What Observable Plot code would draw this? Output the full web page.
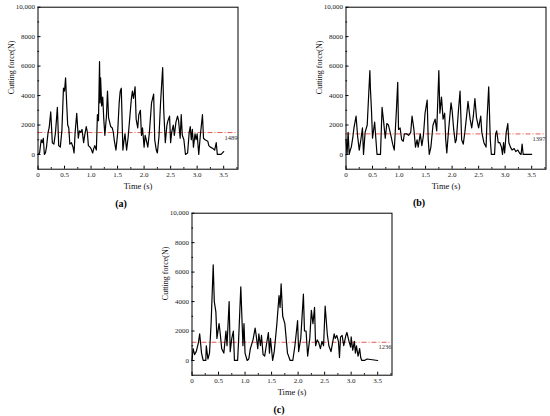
<!DOCTYPE html>
<html><head><meta charset="utf-8">
<script src="https://cdn.jsdelivr.net/npm/d3@7"></script>
<script src="https://cdn.jsdelivr.net/npm/@observablehq/plot@0.6"></script>
<style>
body{margin:0;width:550px;height:416px;overflow:hidden;background:#fff;position:relative;font-family:"Liberation Serif","Times New Roman",serif}
.panel{position:absolute}
.panel svg, .panel svg text{font-family:"Liberation Serif","Times New Roman",serif !important}
.cap{position:absolute;font-weight:bold;font-size:10px;transform:translate(-50%,-50%);color:#000}
</style></head><body>
<div id="pa" class="panel" style="left:0px;top:0px"></div>
<div id="pb" class="panel" style="left:308.2px;top:0px"></div>
<div id="pc" class="panel" style="left:154px;top:206px"></div>
<div class="cap" style="left:121px;top:203px">(a)</div>
<div class="cap" style="left:419px;top:202px">(b)</div>
<div class="cap" style="left:279px;top:409px">(c)</div>
<script>
// time (s), cutting force (N)
const seriesA = [[0,0],[0.03,100],[0.06,1000],[0.08,800],[0.1,1100],[0.12,0],[0.14,100],[0.16,500],[0.19,1500],[0.21,1800],[0.24,2900],[0.27,800],[0.3,700],[0.33,1500],[0.365,3200],[0.39,600],[0.42,500],[0.45,1600],[0.48,4500],[0.5,4300],[0.52,5200],[0.54,3500],[0.56,2000],[0.58,1800],[0.6,700],[0.63,800],[0.66,500],[0.68,100],[0.7,1500],[0.73,2800],[0.76,1100],[0.78,1600],[0.8,1500],[0.83,1700],[0.86,800],[0.88,1300],[0.91,1900],[0.93,1500],[0.95,600],[0.98,500],[1.0,400],[1.03,100],[1.05,400],[1.07,600],[1.1,300],[1.12,2700],[1.14,2300],[1.16,6300],[1.17,3500],[1.18,5200],[1.2,3300],[1.22,3900],[1.24,2400],[1.26,1300],[1.29,2600],[1.31,4300],[1.33,2500],[1.35,2200],[1.37,1900],[1.4,1800],[1.42,1500],[1.44,900],[1.47,300],[1.5,1400],[1.53,3500],[1.55,4300],[1.57,4500],[1.6,300],[1.62,900],[1.64,1400],[1.67,300],[1.7,1200],[1.73,2500],[1.76,3800],[1.78,4300],[1.8,3800],[1.83,4600],[1.85,2400],[1.88,1800],[1.9,2700],[1.93,3000],[1.95,1300],[1.97,1800],[2.0,500],[2.02,1300],[2.04,1000],[2.07,500],[2.1,1500],[2.14,3500],[2.18,4100],[2.2,1000],[2.23,300],[2.25,100],[2.28,1200],[2.31,3500],[2.35,5900],[2.37,3000],[2.4,800],[2.43,2000],[2.45,2300],[2.48,2600],[2.5,800],[2.52,1500],[2.55,2000],[2.57,1300],[2.6,2200],[2.63,2600],[2.65,2300],[2.68,1100],[2.7,2700],[2.72,1300],[2.75,1000],[2.78,0],[2.82,100],[2.85,1500],[2.87,1900],[2.89,1000],[2.91,1700],[2.93,500],[2.96,1400],[2.98,1000],[3.0,1400],[3.03,0],[3.06,1300],[3.1,2700],[3.12,1100],[3.15,1000],[3.2,900],[3.22,600],[3.25,500],[3.3,400],[3.33,300],[3.36,800],[3.38,0],[3.45,0],[3.5,200]];
const seriesB = [[0,1000],[0.02,0],[0.04,1500],[0.06,0],[0.08,300],[0.1,500],[0.13,1200],[0.15,1800],[0.19,2600],[0.22,1200],[0.25,300],[0.28,1000],[0.31,1800],[0.33,0],[0.36,1500],[0.4,2000],[0.42,3500],[0.45,5700],[0.46,4500],[0.48,3000],[0.5,1100],[0.54,2200],[0.56,1200],[0.585,0],[0.65,0],[0.68,3200],[0.71,2200],[0.74,1100],[0.77,2100],[0.8,2000],[0.84,1400],[0.88,700],[0.91,300],[0.95,3000],[0.975,4900],[0.99,1700],[1.02,1800],[1.05,1000],[1.08,900],[1.1,1400],[1.14,1400],[1.18,1300],[1.22,1500],[1.245,2600],[1.28,1700],[1.31,500],[1.34,1000],[1.36,500],[1.4,1400],[1.43,600],[1.46,1300],[1.49,2800],[1.53,3700],[1.55,1000],[1.57,0],[1.6,500],[1.64,2000],[1.68,2400],[1.71,1600],[1.75,5700],[1.77,2800],[1.8,3900],[1.83,2400],[1.86,2800],[1.88,1000],[1.9,100],[1.93,1500],[1.98,3500],[2.0,3000],[2.03,1700],[2.06,800],[2.08,1000],[2.12,3000],[2.15,4300],[2.18,1000],[2.21,700],[2.24,1500],[2.27,2500],[2.3,3600],[2.34,2400],[2.37,1800],[2.4,2600],[2.43,3800],[2.46,2500],[2.5,1800],[2.54,2600],[2.56,1500],[2.6,800],[2.64,500],[2.66,2500],[2.69,4600],[2.72,1000],[2.74,0],[2.8,0],[2.82,1400],[2.84,1600],[2.87,800],[2.9,800],[2.93,500],[2.95,0],[2.97,800],[2.99,100],[3.02,1500],[3.05,2100],[3.07,800],[3.1,500],[3.13,300],[3.17,400],[3.2,200],[3.24,300],[3.27,100],[3.3,0],[3.32,700],[3.34,0],[3.5,0]];
const seriesC = [[0,0],[0.02,800],[0.05,400],[0.08,600],[0.12,1200],[0.145,1800],[0.18,500],[0.21,0],[0.26,0],[0.27,1000],[0.3,100],[0.33,500],[0.36,2500],[0.4,6500],[0.42,4000],[0.45,3300],[0.47,1500],[0.51,2500],[0.53,1900],[0.56,800],[0.6,500],[0.64,2000],[0.66,1000],[0.7,4000],[0.72,600],[0.75,1500],[0.78,2000],[0.8,0],[0.86,0],[0.88,1500],[0.92,5000],[0.96,1000],[0.98,2500],[1.0,500],[1.04,0],[1.07,100],[1.1,800],[1.15,1400],[1.19,2200],[1.21,1700],[1.24,800],[1.26,1800],[1.29,1000],[1.31,1700],[1.34,400],[1.37,300],[1.4,1000],[1.44,1900],[1.46,500],[1.48,1500],[1.52,0],[1.55,600],[1.6,2500],[1.64,4400],[1.66,3600],[1.68,5200],[1.71,3000],[1.75,2500],[1.8,500],[1.85,0],[1.9,0],[1.94,1000],[1.99,2700],[2.01,600],[2.05,1500],[2.1,4500],[2.12,2000],[2.15,2000],[2.18,300],[2.22,1500],[2.25,3400],[2.28,2500],[2.31,3600],[2.33,1000],[2.36,1400],[2.39,1200],[2.42,800],[2.45,1300],[2.48,1000],[2.51,3700],[2.55,1800],[2.58,1000],[2.62,600],[2.65,1200],[2.68,1800],[2.7,1500],[2.73,1700],[2.76,1300],[2.78,200],[2.8,1600],[2.83,1700],[2.86,1000],[2.9,1700],[2.92,1900],[2.96,1300],[2.99,900],[3.0,1600],[3.03,700],[3.06,1300],[3.08,500],[3.1,1000],[3.13,300],[3.16,800],[3.18,200],[3.2,0],[3.25,0],[3.3,100],[3.5,0]];
const means = [1489, 1397, 1236];
const xTicks = [0, 0.5, 1.0, 1.5, 2.0, 2.5, 3.0, 3.5];
const xMinorTicks = [0.25, 0.75, 1.25, 1.75, 2.25, 2.75, 3.25, 3.75];
const yTicks = [0, 2000, 4000, 6000, 8000, 10000];
const yMinorTicks = [-1000, 1000, 3000, 5000, 7000, 9000];
const xTitle = "Time (s)";
const yTitle = "Cutting force(N)";

const xDom = [0, 3.77], yDom = [-1000, 10000];
const frameW = 200, frameH = 162;

function panel(series, mean, height) {
  const tx = (xDom[1] - xDom[0]) / frameW;   // data units per pixel
  const ty = (yDom[1] - yDom[0]) / frameH;
  return Plot.plot({
    width: 37.5 + frameW + 4,
    height: height,
    marginLeft: 37.5, marginRight: 4, marginTop: 6.7, marginBottom: height - 6.7 - frameH,
    x: {domain: xDom},
    y: {domain: yDom},
    style: {fontFamily: "Liberation Serif, serif", background: "transparent", color: "black", overflow: "visible"},
    marks: [
      Plot.ruleY([mean], {stroke: "#e8453c", strokeWidth: 0.9, strokeDasharray: "5,2,1,2"}),
      Plot.line(series, {x: d => d[0], y: d => d[1], stroke: "black", strokeWidth: 1.2}),
      Plot.text([mean], {y: d => d, frameAnchor: "right", text: d => String(d), textAnchor: "end", dx: -0.5, dy: 5, fontSize: 6.5, fill: "#333"}),
      Plot.ruleX(xTicks, {x: d => d, y1: yDom[0], y2: yDom[0] + 3 * ty, stroke: "black"}),
      Plot.ruleX(xMinorTicks.filter(d => d < xDom[1]), {x: d => d, y1: yDom[0], y2: yDom[0] + 1.6 * ty, stroke: "black"}),
      Plot.ruleY(yTicks, {y: d => d, x1: xDom[0], x2: xDom[0] + 3 * tx, stroke: "black"}),
      Plot.ruleY(yMinorTicks, {y: d => d, x1: xDom[0], x2: xDom[0] + 1.6 * tx, stroke: "black"}),
      Plot.frame({stroke: "black", strokeWidth: 1}),
      Plot.axisX(xTicks, {tickSize: 0, tickPadding: 2.5, fontSize: 7, tickFormat: d => d === 0 ? "0" : d.toFixed(1), label: null, fill: "#222"}),
      Plot.axisY(yTicks, {tickSize: 0, tickPadding: 3, fontSize: 7, tickFormat: d => d === 10000 ? "10,000" : String(d), label: null, fill: "#222"}),
      Plot.text([xTitle], {text: d => d, frameAnchor: "bottom", dy: 20, fontSize: 8.5, fill: "#111"}),
      Plot.text([yTitle], {text: d => d, frameAnchor: "left", dx: -27, dy: 6, rotate: -90, fontSize: 8, fill: "#111"})
    ]
  });
}

document.getElementById("pa").append(panel(seriesA, means[0], 200));
document.getElementById("pb").append(panel(seriesB, means[1], 200));
document.getElementById("pc").append(panel(seriesC, means[2], 208));
</script>
</body></html>
